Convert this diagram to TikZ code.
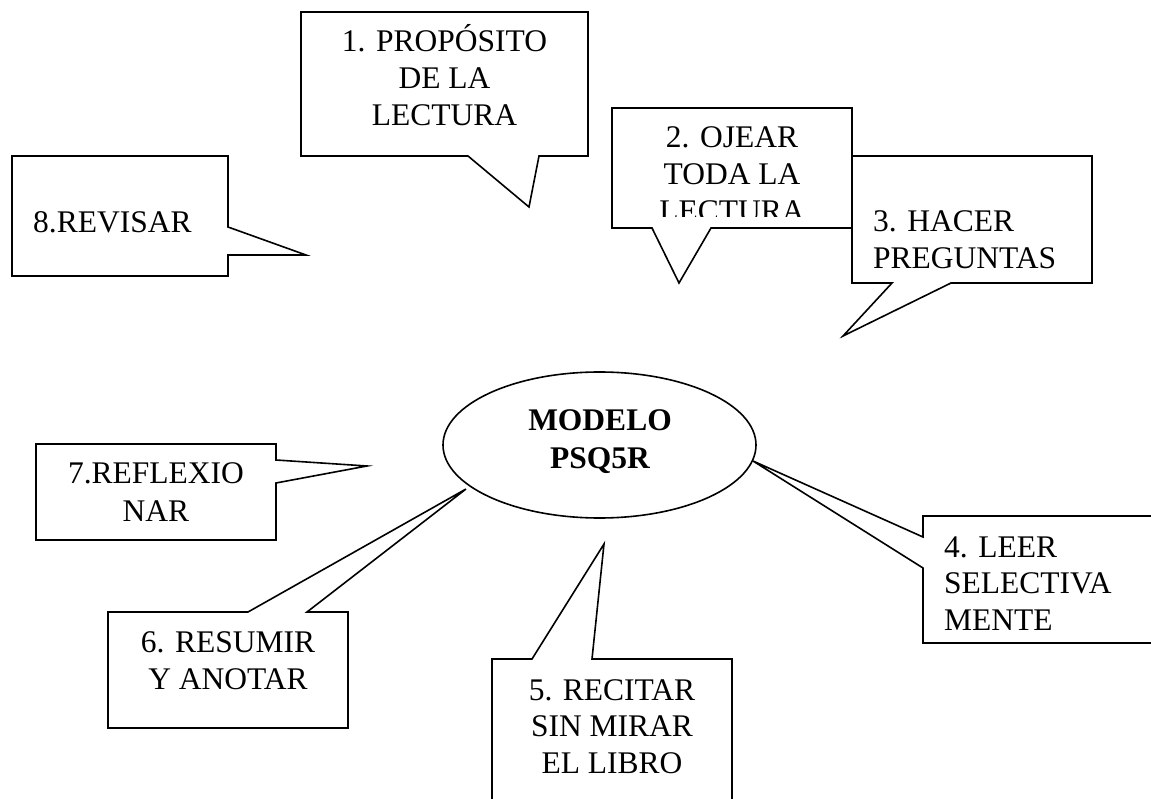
\documentclass[tikz,border=0pt]{standalone}
\usepackage{fontspec}
\setmainfont{Liberation Serif}
\usetikzlibrary{shapes.geometric}
\begin{document}
\begin{tikzpicture}[x=1pt,y=-1pt,
  callout/.style={draw=black, fill=white, line width=1.6pt, line join=miter},
  lbl/.style={font=\fontsize{31.5pt}{37pt}\selectfont, inner sep=0pt, anchor=base},
  lblw/.style={lbl, anchor=base west},
  lblb/.style={font=\fontsize{31.5pt}{37pt}\selectfont\bfseries, inner sep=0pt, anchor=base}]
\fill[white] (0,0) rectangle (1151,799);
\useasboundingbox (0,0) rectangle (1151,799);
\clip (0,0) rectangle (1151,799);

% central ellipse
\node[ellipse, draw=black, fill=white, line width=1.6pt, minimum width=313pt, minimum height=146pt, inner sep=0pt] (model) at (599.5,445) {};
\node[lblb] (m1) at (600,430) {MODELO};
\node[lblb] (m2) at (600,468) {PSQ5R};

% 1
\draw[callout] (301,12) -- (588,12) -- (588,156) -- (539,156) -- (529,207) -- (468,156) -- (301,156) -- cycle;
\node[lbl] (t1a) at (444.5,52) {1. PROPÓSITO};
\node[lbl] (t1b) at (444.5,89) {DE LA};
\node[lbl] (t1c) at (444.5,126) {LECTURA};

% 8
\draw[callout] (12,156) -- (228,156) -- (228,227) -- (306,255) -- (228,255) -- (228,276) -- (12,276) -- cycle;
\node[lblw] (t8) at (33,233) {8.REVISAR};

% 2
\draw[callout] (612,108) -- (852,108) -- (852,228) -- (711,228) -- (679,283) -- (652,228) -- (612,228) -- cycle;
\begin{scope}
\clip (612,108) rectangle (852,217);
\node[lbl] (t2a) at (732,148) {2. OJEAR};
\node[lbl] (t2b) at (732,185) {TODA LA};
\node[lbl] (t2c) at (732,222) {LECTURA};
\end{scope}

% 3
\draw[callout] (852,156) -- (1092,156) -- (1092,283) -- (951,283) -- (843,336) -- (892,283) -- (852,283) -- cycle;
\node[lblw] (t3a) at (873,232) {3. HACER};
\node[lblw] (t3b) at (873,269) {PREGUNTAS};

% 7
\draw[callout] (36,444) -- (276,444) -- (276,460) -- (367,466) -- (276,483) -- (276,540) -- (36,540) -- cycle;
\node[lbl] (t7a) at (156,483) {7.REFLEXIO};
\node[lbl] (t7b) at (156,521) {NAR};

% 6
\draw[callout] (108,612) -- (248,612) -- (466,489) -- (307,612) -- (348,612) -- (348,728) -- (108,728) -- cycle;
\node[lbl] (t6a) at (228,652) {6. RESUMIR};
\node[lbl] (t6b) at (228,689) {Y ANOTAR};

% 5
\draw[callout] (492,659) -- (532,659) -- (604,544) -- (592,659) -- (732,659) -- (732,815) -- (492,815) -- cycle;
\node[lbl] (t5a) at (612,700) {5. RECITAR};
\node[lbl] (t5b) at (612,736.5) {SIN MIRAR};
\node[lbl] (t5c) at (612,773) {EL LIBRO};

% 4
\draw[callout] (923,516) -- (1165,516) -- (1165,643) -- (923,643) -- (923,568) -- (753,461) -- (923,537) -- cycle;
\node[lblw] (t4a) at (944,557) {4. LEER};
\node[lblw] (t4b) at (944,593) {SELECTIVA};
\node[lblw] (t4c) at (944,630) {MENTE};
\end{tikzpicture}
\end{document}
